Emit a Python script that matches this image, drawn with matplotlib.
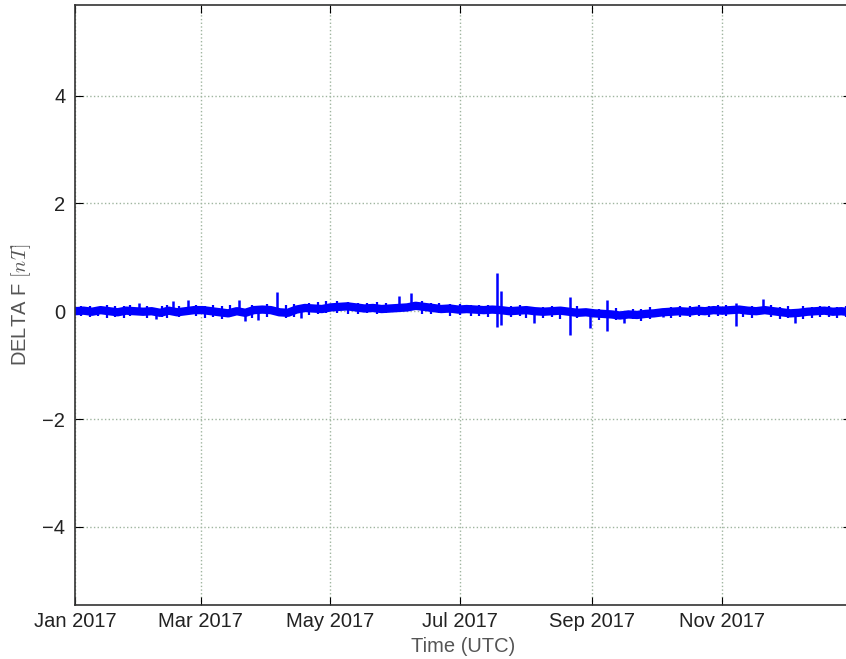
import numpy as np
import pandas as pd
import matplotlib
matplotlib.use('Agg')
import matplotlib.pyplot as plt
import matplotlib.dates as mdates

plt.rcParams['font.family'] = ['Liberation Sans', 'DejaVu Sans']
plt.rcParams['mathtext.fontset'] = 'cm'

# band centre of DELTA F (nT), one value every 4 days from 2017-01-01
base_nt = [0.00, 0.01, -0.01, 0.02, 0.00, -0.02, 0.01, 0.00,
           -0.01, 0.00, -0.03, 0.01, -0.02, 0.00, 0.02,
           0.02, 0.00, -0.02, -0.04, 0.00, -0.03, 0.02, 0.03,
           0.02, -0.02, -0.03, 0.03, 0.06, 0.05, 0.04, 0.07,
           0.08, 0.09, 0.07, 0.05, 0.06, 0.04, 0.05, 0.06,
           0.07, 0.10, 0.08, 0.06, 0.04, 0.05, 0.03, 0.04,
           0.03, 0.02, 0.03, 0.02, 0.00, 0.01, 0.02, 0.00,
           -0.01, 0.00, 0.01, -0.01, -0.03, -0.02, -0.04,
           -0.05, -0.06, -0.08, -0.06, -0.07, -0.05, -0.04,
           -0.02, -0.01, 0.00, -0.01, 0.01, 0.00, 0.02, 0.01,
           0.02, 0.03, 0.01, 0.00, 0.02, 0.00, -0.02, -0.04,
           -0.03, -0.01, 0.00, 0.01, -0.01, 0.00, -0.02]
base_dates = pd.date_range('2017-01-01', periods=len(base_nt), freq='4D')

# large excursions: day of year (0 = Jan 1), low and high values (nT)
spike_day = [30, 38, 46, 53, 77, 80, 86, 95, 106, 152, 158,
             198, 200, 215.5, 232.5, 242, 250, 258, 276, 310.6, 323, 338]
spike_lo = [0.0, -0.15, 0.0, 0.0, 0.0, -0.18, -0.16, 0.0, -0.12, 0.05, 0.05,
            -0.29, -0.26, -0.21, -0.44, -0.32, -0.36, -0.22, -0.10, -0.27, 0.0, -0.22]
spike_hi = [0.16, 0.0, 0.19, 0.20, 0.20, 0.0, 0.0, 0.36, 0.0, 0.29, 0.33,
            0.70, 0.38, 0.0, 0.27, 0.0, 0.21, 0.0, 0.0, 0.16, 0.22, 0.0]
spike_dates = pd.Timestamp('2017-01-01') + pd.to_timedelta(spike_day, unit='D')

# small noise excursions along the band
noise_day = [3, 7, 11, 15, 19, 23, 26, 34, 41, 43, 49, 57, 61, 65, 69, 73,
             83, 90, 99, 103, 110, 114, 118, 123, 128, 133, 137, 142, 146,
             163, 167, 171, 176, 181, 186, 190, 194, 205, 209, 212, 220, 224,
             228, 236, 246, 254, 262, 266, 270, 280, 284, 289, 293, 298, 302,
             306, 314, 318, 327, 331, 335, 342, 346, 350, 354, 358, 362]
noise_lo = [-0.09, -0.11, -0.08, -0.12, -0.10, -0.13, -0.09, -0.12, -0.10, -0.13, -0.11,
            -0.09, -0.12, -0.10, -0.14, -0.11, -0.12, -0.10, -0.13, -0.11, -0.07, -0.05,
            -0.04, -0.03, -0.05, -0.06, -0.04, -0.05, -0.04, -0.05, -0.06, -0.04, -0.08,
            -0.07, -0.09, -0.08, -0.10, -0.11, -0.09, -0.12, -0.13, -0.11, -0.14, -0.12,
            -0.16, -0.17, -0.15, -0.18, -0.14, -0.13, -0.10, -0.11, -0.09, -0.10, -0.08,
            -0.09, -0.10, -0.12, -0.11, -0.14, -0.13, -0.15, -0.12, -0.11, -0.10, -0.12, -0.11]
noise_hi = [0.09, 0.10, 0.08, 0.11, 0.09, 0.10, 0.12, 0.10, 0.09, 0.11, 0.10,
            0.12, 0.09, 0.11, 0.10, 0.12, 0.11, 0.13, 0.12, 0.14, 0.16, 0.17,
            0.18, 0.19, 0.17, 0.16, 0.15, 0.17, 0.16, 0.18, 0.16, 0.15, 0.14,
            0.13, 0.12, 0.11, 0.12, 0.10, 0.11, 0.09, 0.08, 0.10, 0.07, 0.09,
            0.05, 0.06, 0.04, 0.05, 0.07, 0.08, 0.09, 0.10, 0.11, 0.09, 0.12,
            0.11, 0.10, 0.09, 0.11, 0.08, 0.09, 0.10, 0.08, 0.09, 0.10, 0.08, 0.09]
noise_dates = pd.Timestamp('2017-01-01') + pd.to_timedelta(noise_day, unit='D')

fig = plt.figure(figsize=(8.46, 6.59), dpi=100)
ax = fig.add_axes([75 / 846, 54 / 659, 776 / 846, 600 / 659])

ax.plot(base_dates, base_nt, color='blue', lw=6.0)
ax.vlines(noise_dates, noise_lo, noise_hi, color='blue', lw=1.6)
ax.vlines(spike_dates, spike_lo, spike_hi, color='blue', lw=1.8)

ax.set_xlim(pd.Timestamp('2017-01-01'), pd.Timestamp('2017-12-31 12:00'))
ax.set_ylim(-5.45, 5.68)
ax.set_yticks([-4, -2, 0, 2, 4])
ax.set_yticklabels(['\u22124', '\u22122', '0', '2', '4'])
ax.xaxis.set_major_locator(mdates.MonthLocator(bymonth=[1, 3, 5, 7, 9, 11]))
ax.xaxis.set_major_formatter(mdates.DateFormatter('%b %Y'))

ax.grid(True, linestyle=':', color='#9fb59f', lw=1.0)
ax.tick_params(direction='in', length=6, labelsize=14.5, top=True, right=True,
               pad=5, labelcolor='#222222')
ax.tick_params(axis='y', pad=7)
for s in ax.spines.values():
    s.set_color('#333333')
    s.set_linewidth(1.2)

ax.set_xlabel('Time (UTC)', fontsize=14.5, color='#555555', labelpad=4)
ax.set_ylabel('DELTA F $[nT]$', fontsize=14.5, color='#555555', labelpad=7)

plt.savefig('out.png', dpi=100)
